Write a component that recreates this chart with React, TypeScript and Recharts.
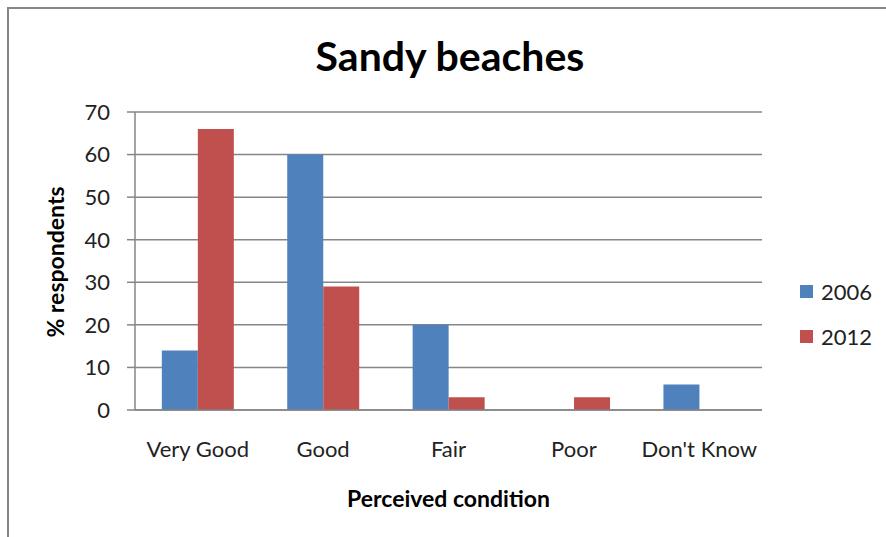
import { BarChart, Bar, XAxis, YAxis, CartesianGrid } from 'recharts';

// perceived condition of sandy beaches, % respondents
const categories = ['Very Good', 'Good', 'Fair', 'Poor', "Don't Know"];
const values2006 = [14, 60, 20, 0, 6];
const values2012 = [66, 29, 3, 3, 0];
const yTicks = [0, 10, 20, 30, 40, 50, 60, 70];

const series = [
  { key: 'y2006', name: '2006', color: '#4F81BD' },
  { key: 'y2012', name: '2012', color: '#C0504D' },
];

const data = categories.map((name, i) => ({
  name,
  y2006: values2006[i],
  y2012: values2012[i],
}));

const font = 'Lato, "Open Sans", sans-serif';
const grey = '#868686';

export default function App() {
  return (
    <div
      style={{
        position: 'fixed',
        top: 0,
        left: 0,
        width: 886,
        height: 537,
        background: '#fff',
        fontFamily: font,
        overflow: 'hidden',
      }}
    >
      {/* chart frame, only left and top edges show in the crop */}
      <div
        style={{
          position: 'absolute',
          left: 7,
          top: 7,
          width: 900,
          height: 560,
          borderLeft: `2px solid ${grey}`,
          borderTop: `2px solid ${grey}`,
        }}
      />
      <BarChart
        width={886}
        height={537}
        data={data}
        margin={{ top: 112, right: 124, left: 0, bottom: 97 }}
        barCategoryGap="21.4%"
        barGap={0}
      >
        <CartesianGrid vertical={false} stroke={grey} strokeWidth={1.5} />
        <XAxis
          dataKey="name"
          height={30}
          axisLine={{ stroke: grey, strokeWidth: 1.5 }}
          tickLine={false}
          tickSize={0}
          tickMargin={31}
          tick={{ fill: '#222', fontSize: 22, fontFamily: font }}
          interval={0}
        />
        <YAxis
          width={135}
          domain={[0, 70]}
          ticks={yTicks}
          axisLine={{ stroke: grey, strokeWidth: 1.5 }}
          tickLine={{ stroke: grey, strokeWidth: 1.5 }}
          tickSize={8}
          tickMargin={17}
          tick={{ fill: '#222', fontSize: 22, fontFamily: font }}
        />
        {series.map((s) => (
          <Bar
            key={s.key}
            dataKey={s.key}
            name={s.name}
            fill={s.color}
            isAnimationActive={false}
          />
        ))}
      </BarChart>

      <div
        style={{
          position: 'absolute',
          left: 0,
          width: 900,
          top: 31,
          textAlign: 'center',
          fontSize: 41,
          fontWeight: 700,
          color: '#000',
          lineHeight: '50px',
        }}
      >
        Sandy beaches
      </div>

      <div
        style={{
          position: 'absolute',
          left: 0,
          width: 897,
          top: 483,
          textAlign: 'center',
          fontSize: 23,
          fontWeight: 700,
          color: '#000',
          lineHeight: '30px',
        }}
      >
        Perceived condition
      </div>

      <div
        style={{
          position: 'absolute',
          left: 55 - 100,
          top: 262 - 15,
          width: 200,
          textAlign: 'center',
          fontSize: 23,
          fontWeight: 700,
          color: '#000',
          lineHeight: '30px',
          transform: 'rotate(-90deg)',
        }}
      >
        % respondents
      </div>

      <div style={{ position: 'absolute', left: 800, top: 276 }}>
        {series.map((s) => (
          <div
            key={s.key}
            style={{
              display: 'flex',
              alignItems: 'center',
              height: 30,
              marginBottom: 15,
              fontSize: 22,
              color: '#222',
            }}
          >
            <span
              style={{
                display: 'inline-block',
                width: 13,
                height: 13,
                background: s.color,
                marginRight: 8,
              }}
            />
            {s.name}
          </div>
        ))}
      </div>
    </div>
  );
}
